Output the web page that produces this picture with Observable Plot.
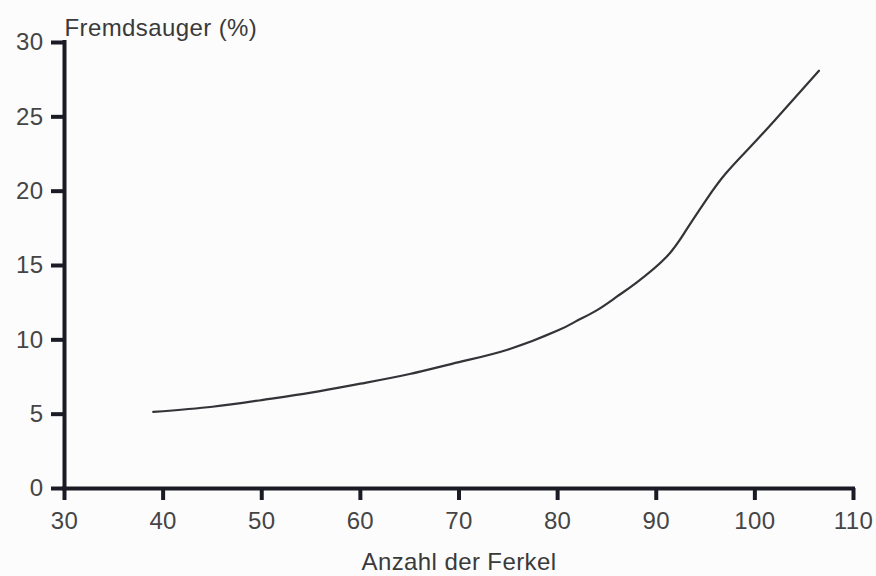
<!DOCTYPE html>
<html>
<head>
<meta charset="utf-8">
<script src="https://cdn.jsdelivr.net/npm/d3@7"></script>
<script src="https://cdn.jsdelivr.net/npm/@observablehq/plot@0.6"></script>
<style>
  html, body { margin: 0; padding: 0; background: #fcfcfc; }
  #chart svg { display: block; background: #fcfcfc; }
  #chart svg text { letter-spacing: 0.4px; }
</style>
</head>
<body>
<div id="chart"></div>
<script>
const ferkel      = [39,   45,  50,   55,   60,   65,  70,  75,   80,    82,   84,   86,   88,    91,    93,    95,    97,    99.5,  102,   106.5];
const fremdsauger = [5.15, 5.5, 5.95, 6.45, 7.05, 7.7, 8.5, 9.35, 10.62, 11.3, 12.0, 12.9, 13.85, 15.55, 17.35, 19.35, 21.15, 22.95, 24.75, 28.1];
const xTicks = [30, 40, 50, 60, 70, 80, 90, 100, 110];
const yTicks = [0, 5, 10, 15, 20, 25, 30];
const xLabel = "Anzahl der Ferkel";
const yLabel = "Fremdsauger (%)";

const data = ferkel.map((x, i) => ({x, y: fremdsauger[i]}));
const axisColor = "#1b1b26";
const textColor = "#454545";
const font = "'Liberation Sans', Arial, Helvetica, sans-serif";

const chart = Plot.plot({
  width: 876,
  height: 576,
  marginLeft: 64,
  marginRight: 23,
  marginTop: 42,
  marginBottom: 88,
  style: {fontFamily: font, fontSize: "24px", background: "#fcfcfc", color: textColor},
  x: {domain: [30, 110], ticks: xTicks},
  y: {domain: [0, 30], ticks: yTicks},
  marks: [
    Plot.axisX({ticks: xTicks, tickSize: 12, tickPadding: 11, strokeWidth: 4, stroke: axisColor, fill: textColor, fontSize: 24, label: null, tickFormat: d => String(d)}),
    Plot.axisY({ticks: yTicks, tickSize: 13, tickPadding: 8, strokeWidth: 4, stroke: axisColor, fill: textColor, fontSize: 24, label: null, tickFormat: d => String(d)}),
    Plot.ruleY([0], {x1: 30, x2: 110, stroke: axisColor, strokeWidth: 4, strokeLinecap: "square"}),
    Plot.ruleX([30], {y1: 0, y2: 30, stroke: axisColor, strokeWidth: 4, strokeLinecap: "square"}),
    Plot.line(data, {x: "x", y: "y", curve: "natural", stroke: "#333338", strokeWidth: 2.2}),
    Plot.text([yLabel], {frameAnchor: "top-left", text: d => d, textAnchor: "start", lineAnchor: "bottom", dy: -7, fill: "#3a3a3a", fontSize: 24}),
    Plot.text([xLabel], {frameAnchor: "bottom", text: d => d, textAnchor: "middle", lineAnchor: "bottom", dy: 81, fill: "#3a3a3a", fontSize: 24})
  ]
});
document.getElementById("chart").appendChild(chart);
</script>
</body>
</html>
